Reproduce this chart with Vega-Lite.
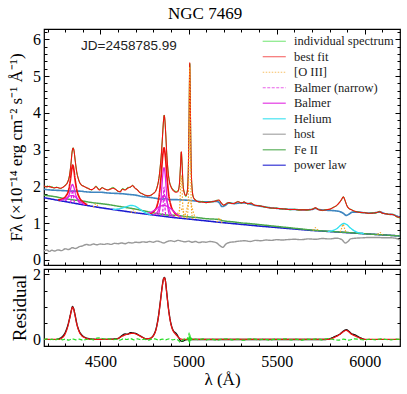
{
"$schema":"https://vega.github.io/schema/vega-lite/v6.json",
"autosize":{"type":"pad"},
"bounds":"flush",
"padding":{"left":6,"top":4,"right":0,"bottom":0},
"title":{"text":"NGC 7469","font":"Liberation Serif","fontSize":17,"fontWeight":"normal","color":"black","offset":5,"anchor":"middle"},
"config":{"view":{"stroke":"black","strokeWidth":1.2},"axis":{"domain":false,"grid":false,"tickColor":"black","tickWidth":1,"labelFont":"Liberation Serif","labelFontSize":16,"labelColor":"black","titleFont":"Liberation Serif","titleFontSize":17,"titleFontWeight":"normal","titleColor":"black"}},
"spacing":4,
"resolve":{"scale":{"color":"independent","strokeDash":"independent","strokeWidth":"independent"},"legend":{"color":"independent","strokeDash":"independent","strokeWidth":"independent"}},
"vconcat":[
{
"width":356,"height":236,
"resolve":{"axis":{"x":"independent","y":"independent"}},
"layer":[
{
"data":{"values":"s,g,x,y\nhost,h,4180,0.24\nhost,h,4195,0.27\nhost,h,4210,0.23\nhost,h,4225,0.26\nhost,h,4240,0.24\nhost,h,4260,0.27\nhost,h,4280,0.25\nhost,h,4300,0.30\nhost,h,4320,0.28\nhost,h,4340,0.33\nhost,h,4360,0.31\nhost,h,4380,0.36\nhost,h,4400,0.38\nhost,h,4420,0.42\nhost,h,4440,0.40\nhost,h,4460,0.43\nhost,h,4480,0.41\nhost,h,4500,0.43\nhost,h,4520,0.42\nhost,h,4540,0.44\nhost,h,4560,0.42\nhost,h,4580,0.45\nhost,h,4600,0.44\nhost,h,4620,0.46\nhost,h,4640,0.44\nhost,h,4660,0.47\nhost,h,4680,0.46\nhost,h,4700,0.48\nhost,h,4720,0.47\nhost,h,4740,0.49\nhost,h,4760,0.48\nhost,h,4780,0.50\nhost,h,4800,0.48\nhost,h,4820,0.51\nhost,h,4840,0.49\nhost,h,4860,0.46\nhost,h,4880,0.50\nhost,h,4900,0.52\nhost,h,4920,0.50\nhost,h,4940,0.53\nhost,h,4960,0.51\nhost,h,4980,0.49\nhost,h,5000,0.51\nhost,h,5020,0.48\nhost,h,5040,0.50\nhost,h,5060,0.47\nhost,h,5080,0.49\nhost,h,5100,0.48\nhost,h,5120,0.50\nhost,h,5140,0.49\nhost,h,5160,0.46\nhost,h,5180,0.38\nhost,h,5195,0.34\nhost,h,5210,0.42\nhost,h,5230,0.47\nhost,h,5260,0.49\nhost,h,5290,0.51\nhost,h,5320,0.52\nhost,h,5350,0.50\nhost,h,5380,0.53\nhost,h,5410,0.52\nhost,h,5440,0.54\nhost,h,5470,0.53\nhost,h,5500,0.55\nhost,h,5530,0.54\nhost,h,5560,0.55\nhost,h,5600,0.56\nhost,h,5640,0.55\nhost,h,5680,0.57\nhost,h,5720,0.56\nhost,h,5760,0.58\nhost,h,5800,0.57\nhost,h,5840,0.59\nhost,h,5870,0.55\nhost,h,5890,0.46\nhost,h,5905,0.50\nhost,h,5920,0.57\nhost,h,5950,0.59\nhost,h,5990,0.60\nhost,h,6030,0.61\nhost,h,6070,0.61\nhost,h,6110,0.60\nhost,h,6150,0.60\nhost,h,6180,0.58\nhost,h,6200,0.54\npower law,p,4180,1.69\npower law,p,4300,1.585\npower law,p,4400,1.50\npower law,p,4500,1.42\npower law,p,4600,1.35\npower law,p,4700,1.28\npower law,p,4800,1.22\npower law,p,4900,1.16\npower law,p,5000,1.11\npower law,p,5100,1.06\npower law,p,5200,1.01\npower law,p,5300,0.965\npower law,p,5400,0.92\npower law,p,5500,0.88\npower law,p,5600,0.84\npower law,p,5700,0.80\npower law,p,5800,0.77\npower law,p,5900,0.74\npower law,p,6000,0.71\npower law,p,6100,0.68\npower law,p,6200,0.65\nFe II,f,4180,1.76\nFe II,f,4240,1.72\nFe II,f,4300,1.665\nFe II,f,4350,1.63\nFe II,f,4400,1.60\nFe II,f,4450,1.56\nFe II,f,4500,1.53\nFe II,f,4550,1.50\nFe II,f,4600,1.46\nFe II,f,4650,1.42\nFe II,f,4700,1.38\nFe II,f,4750,1.33\nFe II,f,4800,1.28\nFe II,f,4850,1.24\nFe II,f,4900,1.21\nFe II,f,4925,1.215\nFe II,f,4950,1.20\nFe II,f,5000,1.17\nFe II,f,5050,1.15\nFe II,f,5100,1.12\nFe II,f,5140,1.11\nFe II,f,5170,1.10\nFe II,f,5200,1.06\nFe II,f,5250,1.035\nFe II,f,5300,1.005\nFe II,f,5350,0.985\nFe II,f,5400,0.96\nFe II,f,5450,0.935\nFe II,f,5500,0.91\nFe II,f,5550,0.885\nFe II,f,5600,0.86\nFe II,f,5650,0.835\nFe II,f,5700,0.81\nFe II,f,5800,0.775\nFe II,f,5900,0.745\nFe II,f,6000,0.71\nFe II,f,6100,0.68\nFe II,f,6200,0.65\ncont,c,4180,1.92\ncont,c,4220,1.90\ncont,c,4260,1.89\ncont,c,4300,1.88\ncont,c,4340,1.87\ncont,c,4380,1.87\ncont,c,4420,1.85\ncont,c,4460,1.84\ncont,c,4500,1.84\ncont,c,4540,1.82\ncont,c,4580,1.81\ncont,c,4620,1.80\ncont,c,4660,1.78\ncont,c,4700,1.76\ncont,c,4740,1.72\ncont,c,4780,1.70\ncont,c,4820,1.67\ncont,c,4850,1.65\ncont,c,4870,1.67\ncont,c,4890,1.64\ncont,c,4920,1.64\ncont,c,4960,1.63\ncont,c,5000,1.62\ncont,c,5040,1.60\ncont,c,5080,1.58\ncont,c,5120,1.58\ncont,c,5160,1.59\ncont,c,5175,1.55\ncont,c,5190,1.45\ncont,c,5205,1.47\ncont,c,5230,1.55\ncont,c,5260,1.53\ncont,c,5300,1.55\ncont,c,5340,1.53\ncont,c,5380,1.48\ncont,c,5420,1.45\ncont,c,5460,1.42\ncont,c,5500,1.40\ncont,c,5550,1.38\ncont,c,5600,1.37\ncont,c,5650,1.36\ncont,c,5700,1.37\ncont,c,5720,1.40\ncont,c,5740,1.37\ncont,c,5780,1.35\ncont,c,5820,1.34\ncont,c,5860,1.31\ncont,c,5880,1.26\ncont,c,5895,1.21\ncont,c,5910,1.24\ncont,c,5930,1.30\ncont,c,5960,1.30\ncont,c,6000,1.28\ncont,c,6040,1.27\ncont,c,6085,1.30\ncont,c,6120,1.25\ncont,c,6160,1.23\ncont,c,6200,1.15\nindividual spectrum,d,4180,2.00\nindividual spectrum,d,4190,1.99\nindividual spectrum,d,4200,2.01\nindividual spectrum,d,4212,1.98\nindividual spectrum,d,4225,1.99\nindividual spectrum,d,4238,1.95\nindividual spectrum,d,4250,1.98\nindividual spectrum,d,4262,1.96\nindividual spectrum,d,4275,1.94\nindividual spectrum,d,4288,1.98\nindividual spectrum,d,4300,2.03\nindividual spectrum,d,4312,2.10\nindividual spectrum,d,4325,2.31\nindividual spectrum,d,4333,2.60\nindividual spectrum,d,4340,2.96\nindividual spectrum,d,4345,3.05\nindividual spectrum,d,4350,2.97\nindividual spectrum,d,4357,2.71\nindividual spectrum,d,4365,2.40\nindividual spectrum,d,4375,2.21\nindividual spectrum,d,4390,2.04\nindividual spectrum,d,4405,2.01\nindividual spectrum,d,4420,1.96\nindividual spectrum,d,4435,1.94\nindividual spectrum,d,4450,1.90\nindividual spectrum,d,4465,1.96\nindividual spectrum,d,4475,2.01\nindividual spectrum,d,4485,1.95\nindividual spectrum,d,4495,1.92\nindividual spectrum,d,4510,1.97\nindividual spectrum,d,4525,1.92\nindividual spectrum,d,4540,1.91\nindividual spectrum,d,4555,1.93\nindividual spectrum,d,4570,1.97\nindividual spectrum,d,4585,1.93\nindividual spectrum,d,4600,1.86\nindividual spectrum,d,4612,1.86\nindividual spectrum,d,4625,1.94\nindividual spectrum,d,4640,1.91\nindividual spectrum,d,4655,1.97\nindividual spectrum,d,4670,1.97\nindividual spectrum,d,4683,2.03\nindividual spectrum,d,4695,1.95\nindividual spectrum,d,4710,1.91\nindividual spectrum,d,4725,1.82\nindividual spectrum,d,4740,1.80\nindividual spectrum,d,4755,1.75\nindividual spectrum,d,4770,1.75\nindividual spectrum,d,4785,1.75\nindividual spectrum,d,4800,1.81\nindividual spectrum,d,4812,1.85\nindividual spectrum,d,4822,1.99\nindividual spectrum,d,4832,2.21\nindividual spectrum,d,4840,2.56\nindividual spectrum,d,4847,2.94\nindividual spectrum,d,4853,3.41\nindividual spectrum,d,4858,3.77\nindividual spectrum,d,4862,3.94\nindividual spectrum,d,4866,3.79\nindividual spectrum,d,4871,3.41\nindividual spectrum,d,4877,2.84\nindividual spectrum,d,4884,2.42\nindividual spectrum,d,4892,2.13\nindividual spectrum,d,4902,1.99\nindividual spectrum,d,4915,1.90\nindividual spectrum,d,4930,1.86\nindividual spectrum,d,4940,1.88\nindividual spectrum,d,4948,2.03\nindividual spectrum,d,4954,2.52\nindividual spectrum,d,4959,2.93\nindividual spectrum,d,4964,2.57\nindividual spectrum,d,4969,2.03\nindividual spectrum,d,4976,1.84\nindividual spectrum,d,4985,1.72\nindividual spectrum,d,4993,1.88\nindividual spectrum,d,4999,2.48\nindividual spectrum,d,5003,3.82\nindividual spectrum,d,5007,5.34\nindividual spectrum,d,5011,4.02\nindividual spectrum,d,5015,2.58\nindividual spectrum,d,5020,1.97\nindividual spectrum,d,5028,1.69\nindividual spectrum,d,5040,1.64\nindividual spectrum,d,5060,1.57\nindividual spectrum,d,5080,1.59\nindividual spectrum,d,5100,1.55\nindividual spectrum,d,5120,1.58\nindividual spectrum,d,5140,1.58\nindividual spectrum,d,5160,1.62\nindividual spectrum,d,5172,1.62\nindividual spectrum,d,5185,1.56\nindividual spectrum,d,5200,1.48\nindividual spectrum,d,5215,1.54\nindividual spectrum,d,5230,1.55\nindividual spectrum,d,5245,1.54\nindividual spectrum,d,5260,1.53\nindividual spectrum,d,5280,1.59\nindividual spectrum,d,5300,1.54\nindividual spectrum,d,5315,1.58\nindividual spectrum,d,5335,1.52\nindividual spectrum,d,5355,1.55\nindividual spectrum,d,5375,1.48\nindividual spectrum,d,5400,1.48\nindividual spectrum,d,5425,1.44\nindividual spectrum,d,5450,1.43\nindividual spectrum,d,5475,1.40\nindividual spectrum,d,5500,1.41\nindividual spectrum,d,5525,1.38\nindividual spectrum,d,5550,1.39\nindividual spectrum,d,5575,1.36\nindividual spectrum,d,5600,1.38\nindividual spectrum,d,5625,1.35\nindividual spectrum,d,5650,1.37\nindividual spectrum,d,5675,1.35\nindividual spectrum,d,5700,1.38\nindividual spectrum,d,5720,1.41\nindividual spectrum,d,5735,1.38\nindividual spectrum,d,5760,1.34\nindividual spectrum,d,5780,1.37\nindividual spectrum,d,5800,1.37\nindividual spectrum,d,5820,1.43\nindividual spectrum,d,5840,1.47\nindividual spectrum,d,5855,1.56\nindividual spectrum,d,5868,1.63\nindividual spectrum,d,5878,1.72\nindividual spectrum,d,5888,1.61\nindividual spectrum,d,5898,1.49\nindividual spectrum,d,5910,1.39\nindividual spectrum,d,5925,1.37\nindividual spectrum,d,5940,1.32\nindividual spectrum,d,5960,1.31\nindividual spectrum,d,5980,1.28\nindividual spectrum,d,6000,1.29\nindividual spectrum,d,6020,1.26\nindividual spectrum,d,6040,1.28\nindividual spectrum,d,6060,1.27\nindividual spectrum,d,6085,1.32\nindividual spectrum,d,6100,1.26\nindividual spectrum,d,6120,1.26\nindividual spectrum,d,6140,1.23\nindividual spectrum,d,6160,1.24\nindividual spectrum,d,6180,1.17\nindividual spectrum,d,6200,1.14\nbest fit,b,4180,2.02\nbest fit,b,4195,1.98\nbest fit,b,4210,2.00\nbest fit,b,4225,1.97\nbest fit,b,4240,1.96\nbest fit,b,4255,1.97\nbest fit,b,4270,1.95\nbest fit,b,4285,1.97\nbest fit,b,4300,2.02\nbest fit,b,4315,2.12\nbest fit,b,4325,2.30\nbest fit,b,4333,2.62\nbest fit,b,4340,2.95\nbest fit,b,4345,3.04\nbest fit,b,4350,2.98\nbest fit,b,4357,2.70\nbest fit,b,4365,2.42\nbest fit,b,4375,2.20\nbest fit,b,4390,2.05\nbest fit,b,4405,2.00\nbest fit,b,4420,1.97\nbest fit,b,4435,1.93\nbest fit,b,4450,1.91\nbest fit,b,4465,1.95\nbest fit,b,4475,1.99\nbest fit,b,4485,1.94\nbest fit,b,4495,1.90\nbest fit,b,4510,1.96\nbest fit,b,4525,1.93\nbest fit,b,4540,1.90\nbest fit,b,4555,1.92\nbest fit,b,4570,1.95\nbest fit,b,4585,1.92\nbest fit,b,4600,1.87\nbest fit,b,4612,1.85\nbest fit,b,4625,1.92\nbest fit,b,4640,1.90\nbest fit,b,4655,1.95\nbest fit,b,4670,1.98\nbest fit,b,4683,2.02\nbest fit,b,4695,1.96\nbest fit,b,4710,1.90\nbest fit,b,4725,1.83\nbest fit,b,4740,1.79\nbest fit,b,4755,1.76\nbest fit,b,4770,1.74\nbest fit,b,4785,1.76\nbest fit,b,4800,1.80\nbest fit,b,4812,1.86\nbest fit,b,4822,1.98\nbest fit,b,4832,2.22\nbest fit,b,4840,2.55\nbest fit,b,4847,2.95\nbest fit,b,4853,3.40\nbest fit,b,4858,3.78\nbest fit,b,4862,3.93\nbest fit,b,4866,3.80\nbest fit,b,4871,3.40\nbest fit,b,4877,2.85\nbest fit,b,4884,2.40\nbest fit,b,4892,2.12\nbest fit,b,4902,1.97\nbest fit,b,4915,1.88\nbest fit,b,4930,1.84\nbest fit,b,4940,1.86\nbest fit,b,4948,2.05\nbest fit,b,4954,2.50\nbest fit,b,4959,2.94\nbest fit,b,4964,2.55\nbest fit,b,4969,2.05\nbest fit,b,4976,1.82\nbest fit,b,4985,1.75\nbest fit,b,4993,1.85\nbest fit,b,4999,2.50\nbest fit,b,5003,3.80\nbest fit,b,5007,5.36\nbest fit,b,5011,4.00\nbest fit,b,5015,2.60\nbest fit,b,5020,1.95\nbest fit,b,5028,1.70\nbest fit,b,5040,1.62\nbest fit,b,5060,1.58\nbest fit,b,5080,1.57\nbest fit,b,5100,1.56\nbest fit,b,5120,1.57\nbest fit,b,5140,1.59\nbest fit,b,5160,1.61\nbest fit,b,5172,1.63\nbest fit,b,5185,1.55\nbest fit,b,5200,1.49\nbest fit,b,5215,1.53\nbest fit,b,5230,1.56\nbest fit,b,5245,1.53\nbest fit,b,5260,1.54\nbest fit,b,5280,1.58\nbest fit,b,5300,1.55\nbest fit,b,5315,1.57\nbest fit,b,5335,1.53\nbest fit,b,5355,1.54\nbest fit,b,5375,1.49\nbest fit,b,5400,1.47\nbest fit,b,5425,1.45\nbest fit,b,5450,1.42\nbest fit,b,5475,1.41\nbest fit,b,5500,1.40\nbest fit,b,5525,1.39\nbest fit,b,5550,1.38\nbest fit,b,5575,1.37\nbest fit,b,5600,1.37\nbest fit,b,5625,1.36\nbest fit,b,5650,1.36\nbest fit,b,5675,1.36\nbest fit,b,5700,1.37\nbest fit,b,5720,1.42\nbest fit,b,5735,1.37\nbest fit,b,5760,1.35\nbest fit,b,5780,1.36\nbest fit,b,5800,1.38\nbest fit,b,5820,1.42\nbest fit,b,5840,1.48\nbest fit,b,5855,1.55\nbest fit,b,5868,1.64\nbest fit,b,5878,1.71\nbest fit,b,5888,1.62\nbest fit,b,5898,1.48\nbest fit,b,5910,1.40\nbest fit,b,5925,1.36\nbest fit,b,5940,1.33\nbest fit,b,5960,1.30\nbest fit,b,5980,1.29\nbest fit,b,6000,1.28\nbest fit,b,6020,1.27\nbest fit,b,6040,1.27\nbest fit,b,6060,1.28\nbest fit,b,6085,1.31\nbest fit,b,6100,1.27\nbest fit,b,6120,1.25\nbest fit,b,6140,1.24\nbest fit,b,6160,1.23\nbest fit,b,6180,1.18\nbest fit,b,6200,1.15\nbsum,s1,4260,1.63\nbsum,s1,4285,1.66\nbsum,s1,4305,1.74\nbsum,s1,4320,1.90\nbsum,s1,4330,2.18\nbsum,s1,4337,2.45\nbsum,s1,4343,2.58\nbsum,s1,4349,2.47\nbsum,s1,4356,2.20\nbsum,s1,4366,1.90\nbsum,s1,4380,1.70\nbsum,s1,4400,1.58\nbsum,s1,4425,1.50\nbsum,s2,4780,1.26\nbsum,s2,4805,1.33\nbsum,s2,4822,1.48\nbsum,s2,4835,1.80\nbsum,s2,4845,2.30\nbsum,s2,4853,2.80\nbsum,s2,4861,3.05\nbsum,s2,4869,2.80\nbsum,s2,4877,2.30\nbsum,s2,4887,1.80\nbsum,s2,4900,1.48\nbsum,s2,4918,1.30\nbsum,s2,4945,1.20\nBalmer,hg1,4300,1.605\nBalmer,hg1,4315,1.69\nBalmer,hg1,4327,1.84\nBalmer,hg1,4335,2.00\nBalmer,hg1,4342,2.05\nBalmer,hg1,4349,1.98\nBalmer,hg1,4357,1.82\nBalmer,hg1,4369,1.65\nBalmer,hg1,4384,1.535\nBalmer,hg2,4272,1.62\nBalmer,hg2,4297,1.655\nBalmer,hg2,4312,1.695\nBalmer,hg2,4327,1.74\nBalmer,hg2,4342,1.75\nBalmer,hg2,4357,1.715\nBalmer,hg2,4372,1.65\nBalmer,hg2,4387,1.575\nBalmer,hg2,4412,1.50\nBalmer,hb1,4825,1.215\nBalmer,hb1,4837,1.37\nBalmer,hb1,4843,1.62\nBalmer,hb1,4849,2.00\nBalmer,hb1,4855,2.36\nBalmer,hb1,4861,2.51\nBalmer,hb1,4867,2.35\nBalmer,hb1,4873,1.98\nBalmer,hb1,4879,1.60\nBalmer,hb1,4885,1.35\nBalmer,hb1,4897,1.18\nBalmer,hb2,4801,1.225\nBalmer,hb2,4821,1.28\nBalmer,hb2,4831,1.39\nBalmer,hb2,4841,1.55\nBalmer,hb2,4851,1.70\nBalmer,hb2,4861,1.76\nBalmer,hb2,4871,1.69\nBalmer,hb2,4881,1.53\nBalmer,hb2,4891,1.36\nBalmer,hb2,4901,1.24\nBalmer,hb2,4921,1.17\nBalmer,hb3,4760,1.26\nBalmer,hb3,4790,1.30\nBalmer,hb3,4815,1.38\nBalmer,hb3,4840,1.46\nBalmer,hb3,4861,1.48\nBalmer,hb3,4882,1.45\nBalmer,hb3,4907,1.36\nBalmer,hb3,4932,1.25\nBalmer,hb3,4960,1.16\nBalmer (narrow),ng,4328,1.56\nBalmer (narrow),ng,4334,1.62\nBalmer (narrow),ng,4338,1.80\nBalmer (narrow),ng,4342,1.90\nBalmer (narrow),ng,4346,1.80\nBalmer (narrow),ng,4350,1.62\nBalmer (narrow),ng,4356,1.545\nBalmer (narrow),nb,4850,1.19\nBalmer (narrow),nb,4855,1.40\nBalmer (narrow),nb,4858,1.75\nBalmer (narrow),nb,4861,1.98\nBalmer (narrow),nb,4864,1.75\nBalmer (narrow),nb,4867,1.40\nBalmer (narrow),nb,4872,1.18\nHelium,he2,4570,1.37\nHelium,he2,4600,1.385\nHelium,he2,4625,1.41\nHelium,he2,4650,1.45\nHelium,he2,4672,1.48\nHelium,he2,4692,1.47\nHelium,he2,4712,1.42\nHelium,he2,4735,1.34\nHelium,he2,4760,1.27\nHelium,he2,4790,1.225\nHelium,he1,5790,0.77\nHelium,he1,5820,0.80\nHelium,he1,5845,0.86\nHelium,he1,5865,0.95\nHelium,he1,5882,0.99\nHelium,he1,5898,0.96\nHelium,he1,5918,0.87\nHelium,he1,5940,0.79\nHelium,he1,5965,0.74\nHelium,he1,5995,0.715\n[O III],o1,4990,1.12\n[O III],o1,4996,1.30\n[O III],o1,5000,1.90\n[O III],o1,5003,3.20\n[O III],o1,5005,4.50\n[O III],o1,5007,5.25\n[O III],o1,5009,4.50\n[O III],o1,5011,3.20\n[O III],o1,5014,1.90\n[O III],o1,5018,1.30\n[O III],o1,5024,1.11\n[O III],o2,4972,1.15\n[O III],o2,4985,1.28\n[O III],o2,4997,1.50\n[O III],o2,5006,1.62\n[O III],o2,5015,1.52\n[O III],o2,5027,1.30\n[O III],o2,5040,1.13\n[O III],o3,4942,1.16\n[O III],o3,4948,1.30\n[O III],o3,4952,1.62\n[O III],o3,4955,2.00\n[O III],o3,4959,2.30\n[O III],o3,4963,2.00\n[O III],o3,4966,1.62\n[O III],o3,4970,1.30\n[O III],o3,4976,1.15\n[O III],o4,4925,1.19\n[O III],o4,4938,1.26\n[O III],o4,4950,1.35\n[O III],o4,4958,1.38\n[O III],o4,4967,1.34\n[O III],o4,4980,1.24\n[O III],o4,4993,1.15\n[O III],o5,4458,1.44\n[O III],o5,4466,1.47\n[O III],o5,4472,1.52\n[O III],o5,4478,1.52\n[O III],o5,4484,1.47\n[O III],o5,4492,1.425\n[O III],o6,4672,1.29\n[O III],o6,4680,1.32\n[O III],o6,4686,1.36\n[O III],o6,4692,1.33\n[O III],o6,4700,1.285\n[O III],o7,5160,1.03\n[O III],o7,5168,1.08\n[O III],o7,5175,1.14\n[O III],o7,5182,1.08\n[O III],o7,5190,1.01\n[O III],o8,5705,0.805\n[O III],o8,5714,0.84\n[O III],o8,5721,0.88\n[O III],o8,5728,0.84\n[O III],o8,5737,0.80\n[O III],o9,5860,0.755\n[O III],o9,5869,0.86\n[O III],o9,5877,0.97\n[O III],o9,5885,0.86\n[O III],o9,5894,0.745\n[O III],o10,6072,0.69\n[O III],o10,6080,0.72\n[O III],o10,6087,0.745\n[O III],o10,6094,0.72\n[O III],o10,6102,0.685","format":{"type":"csv","parse":{"x":"number","y":"number"}}},
"mark":{"type":"line","interpolate":"monotone"},
"encoding":{
"x":{"field":"x","type":"quantitative","scale":{"domain":[4180,6200],"nice":false,"zero":false},"axis":{"orient":"bottom","values":[4500,5000,5500,6000],"labels":false,"tickSize":-5,"title":null}},
"y":{"field":"y","type":"quantitative","scale":{"domain":[-0.14,6.28],"nice":false,"zero":false},"axis":{"orient":"left","values":[0,1,2,3,4,5,6],"format":"d","tickSize":-5,"labelPadding":8.5,"title":"Fλ (×10⁻¹⁴ erg cm⁻² s⁻¹ Å⁻¹)","titleX":-28,"titleY":118,"titleAngle":270,"titleAlign":"center","titleBaseline":"middle"}},
"color":{"field":"s","type":"nominal","scale":{"domain":["individual spectrum","best fit","[O III]","Balmer (narrow)","Balmer","Helium","host","Fe II","power law","cont","bsum"],"range":["#19d419","#f01010","#f5a623","#e020e0","#e020e0","#30e0f0","#999999","#4aa84a","#1a1ad0","#3f86c0","#f01010"]},"legend":{"values":["individual spectrum","best fit","[O III]","Balmer (narrow)","Balmer","Helium","host","Fe II","power law"],"orient":"none","legendX":224,"legendY":6,"title":null,"symbolType":"M-3,0H3","symbolSize":59,"labelFont":"Liberation Serif","labelFontSize":12.5,"labelColor":"#222222","rowPadding":2.5,"labelOffset":13.5,"padding":0,"symbolOpacity":0.7,"encode":{"symbols":{"update":{"strokeDash":{"signal":"datum.value === '[O III]' ? [1.5,1.5] : datum.value === 'Balmer (narrow)' ? [3,1.5] : [1,0]"},"strokeWidth":{"signal":"indexof(['best fit','Helium','Fe II'], datum.value) >= 0 ? 2.6 : 1.1"}}}}}},
"strokeDash":{"field":"s","type":"nominal","scale":{"domain":["individual spectrum","best fit","[O III]","Balmer (narrow)","Balmer","Helium","host","Fe II","power law","cont","bsum"],"range":[[1,0],[1,0],[1.5,1.5],[3,1.5],[1,0],[1,0],[1,0],[1,0],[1,0],[1,0],[1,0]]},"legend":null},
"strokeWidth":{"field":"s","type":"nominal","scale":{"domain":["individual spectrum","best fit","[O III]","Balmer (narrow)","Balmer","Helium","host","Fe II","power law","cont","bsum"],"range":[1,1.7,1.1,0.9,1,1.8,1,2.2,1.3,1.2,1]},"legend":null},
"detail":{"field":"g","type":"nominal"}
}
},
{
"data":{"values":[{}]},
"mark":{"type":"text","align":"left","baseline":"middle","font":"Liberation Sans","fontSize":13.5,"color":"#222222"},
"encoding":{
"x":{"datum":4390,"type":"quantitative","scale":{"domain":[4180,6200],"nice":false,"zero":false},"axis":null},
"y":{"datum":5.82,"type":"quantitative","scale":{"domain":[-0.14,6.28],"nice":false,"zero":false},"axis":null},
"text":{"value":"JD=2458785.99"}
}
},
{
"data":{"values":[{}]},
"mark":{"type":"point","opacity":0},
"encoding":{
"x":{"datum":5000,"type":"quantitative","scale":{"domain":[4180,6200],"nice":false,"zero":false},"axis":{"orient":"top","values":[4500,5000,5500,6000],"labels":false,"tickSize":-5,"title":null}},
"y":{"datum":1,"type":"quantitative","scale":{"domain":[-0.14,6.28],"nice":false,"zero":false},"axis":{"orient":"right","values":[0,1,2,3,4,5,6],"labels":false,"tickSize":-5,"title":null}}
}
},
{
"data":{"values":[{}]},
"mark":{"type":"point","opacity":0},
"encoding":{
"x":{"datum":5000,"type":"quantitative","scale":{"domain":[4180,6200],"nice":false,"zero":false},"axis":{"orient":"bottom","values":[4200,4300,4400,4600,4700,4800,4900,5100,5200,5300,5400,5600,5700,5800,5900,6100],"labels":false,"tickSize":-3,"title":null}},
"y":{"datum":1,"type":"quantitative","scale":{"domain":[-0.14,6.28],"nice":false,"zero":false},"axis":{"orient":"left","values":[0.2,0.4,0.6,0.8,1.2,1.4,1.6,1.8,2.2,2.4,2.6,2.8,3.2,3.4,3.6,3.8,4.2,4.4,4.6,4.8,5.2,5.4,5.6,5.8,6.2],"labels":false,"tickSize":-3,"title":null}}
}
},
{
"data":{"values":[{}]},
"mark":{"type":"point","opacity":0},
"encoding":{
"x":{"datum":5000,"type":"quantitative","scale":{"domain":[4180,6200],"nice":false,"zero":false},"axis":{"orient":"top","values":[4200,4300,4400,4600,4700,4800,4900,5100,5200,5300,5400,5600,5700,5800,5900,6100],"labels":false,"tickSize":-3,"title":null}},
"y":{"datum":1,"type":"quantitative","scale":{"domain":[-0.14,6.28],"nice":false,"zero":false},"axis":{"orient":"right","values":[0.2,0.4,0.6,0.8,1.2,1.4,1.6,1.8,2.2,2.4,2.6,2.8,3.2,3.4,3.6,3.8,4.2,4.4,4.6,4.8,5.2,5.4,5.6,5.8,6.2],"labels":false,"tickSize":-3,"title":null}}
}
}
]
},
{
"width":356,"height":77,
"resolve":{"axis":{"x":"independent","y":"independent"}},
"layer":[
{
"data":{"values":"s,x,y\nrblack,4250,0.0\nrblack,4267,0.03\nrblack,4285,0.09\nrblack,4300,0.21\nrblack,4315,0.43\nrblack,4327,0.69\nrblack,4336,0.91\nrblack,4342,1.01\nrblack,4348,0.95\nrblack,4356,0.76\nrblack,4366,0.49\nrblack,4378,0.28\nrblack,4392,0.15\nrblack,4410,0.07\nrblack,4430,0.03\nrblack,4460,0.01\nrblack,4500,0.0\nrblack,4560,0.01\nrblack,4600,0.03\nrblack,4620,0.11\nrblack,4640,0.17\nrblack,4655,0.16\nrblack,4670,0.21\nrblack,4685,0.20\nrblack,4700,0.19\nrblack,4715,0.14\nrblack,4730,0.10\nrblack,4745,0.05\nrblack,4760,0.02\nrblack,4780,0.03\nrblack,4800,0.12\nrblack,4815,0.31\nrblack,4828,0.66\nrblack,4840,1.16\nrblack,4850,1.60\nrblack,4858,1.86\nrblack,4863,1.90\nrblack,4869,1.80\nrblack,4876,1.46\nrblack,4885,1.01\nrblack,4895,0.63\nrblack,4905,0.39\nrblack,4915,0.26\nrblack,4925,0.21\nrblack,4935,0.15\nrblack,4945,0.05\nrblack,4955,-0.04\nrblack,4965,-0.06\nrblack,4980,-0.02\nrblack,5000,0.0\nrblack,5100,0.0\nrblack,5500,0.0\nrblack,5780,0.0\nrblack,5800,0.02\nrblack,5830,0.09\nrblack,5860,0.17\nrblack,5885,0.28\nrblack,5895,0.30\nrblack,5910,0.25\nrblack,5925,0.18\nrblack,5945,0.14\nrblack,5965,0.08\nrblack,5985,0.03\nrblack,6000,0.0\nrfit,4180,0\nrfit,4260,0.0\nrfit,4280,0.04\nrfit,4300,0.17\nrfit,4315,0.40\nrfit,4327,0.68\nrfit,4336,0.90\nrfit,4342,0.99\nrfit,4348,0.93\nrfit,4356,0.74\nrfit,4366,0.47\nrfit,4378,0.26\nrfit,4392,0.13\nrfit,4410,0.06\nrfit,4430,0.02\nrfit,4460,0.0\nrfit,4580,0.0\nrfit,4600,0.03\nrfit,4620,0.09\nrfit,4640,0.14\nrfit,4660,0.17\nrfit,4680,0.19\nrfit,4700,0.17\nrfit,4720,0.12\nrfit,4740,0.06\nrfit,4760,0.02\nrfit,4780,0.03\nrfit,4800,0.11\nrfit,4815,0.29\nrfit,4828,0.64\nrfit,4840,1.13\nrfit,4850,1.58\nrfit,4858,1.84\nrfit,4863,1.89\nrfit,4869,1.79\nrfit,4876,1.44\nrfit,4885,0.99\nrfit,4895,0.61\nrfit,4905,0.37\nrfit,4915,0.24\nrfit,4925,0.17\nrfit,4935,0.11\nrfit,4945,0.05\nrfit,4960,0.01\nrfit,4980,0\nrfit,5780,0\nrfit,5800,0.01\nrfit,5830,0.07\nrfit,5860,0.16\nrfit,5885,0.26\nrfit,5895,0.28\nrfit,5910,0.23\nrfit,5925,0.16\nrfit,5945,0.11\nrfit,5965,0.06\nrfit,5985,0.02\nrfit,6000,0.0\nrfit,6200,0.0\nrres,4180,0.00\nrres,4195,0.02\nrres,4210,-0.01\nrres,4225,0.01\nrres,4240,-0.02\nrres,4255,0.01\nrres,4270,0.02\nrres,4285,-0.01\nrres,4300,0.01\nrres,4320,-0.02\nrres,4340,0.02\nrres,4360,-0.01\nrres,4380,0.01\nrres,4400,-0.02\nrres,4420,0.00\nrres,4440,0.02\nrres,4460,-0.01\nrres,4480,0.04\nrres,4495,0.05\nrres,4510,0.03\nrres,4530,0.01\nrres,4550,0.02\nrres,4570,-0.01\nrres,4590,0.01\nrres,4610,-0.02\nrres,4630,0.02\nrres,4650,0.00\nrres,4670,0.03\nrres,4690,-0.01\nrres,4710,0.02\nrres,4730,-0.01\nrres,4750,0.01\nrres,4770,-0.02\nrres,4790,0.01\nrres,4810,0.02\nrres,4830,-0.02\nrres,4850,0.01\nrres,4870,-0.01\nrres,4890,0.02\nrres,4910,-0.01\nrres,4930,0.01\nrres,4945,-0.04\nrres,4953,-0.09\nrres,4960,-0.06\nrres,4968,-0.02\nrres,4980,0.02\nrres,4990,-0.01\nrres,4996,0.06\nrres,5000,-0.05\nrres,5003,0.20\nrres,5006,-0.12\nrres,5009,0.15\nrres,5012,-0.06\nrres,5016,0.04\nrres,5022,-0.01\nrres,5040,0.01\nrres,5060,-0.01\nrres,5080,0.02\nrres,5100,-0.01\nrres,5130,0.01\nrres,5160,-0.02\nrres,5190,0.01\nrres,5220,0.02\nrres,5250,-0.01\nrres,5280,0.01\nrres,5310,-0.02\nrres,5340,0.01\nrres,5370,0.02\nrres,5400,-0.01\nrres,5430,0.01\nrres,5460,-0.02\nrres,5490,0.01\nrres,5520,0.00\nrres,5550,0.02\nrres,5580,-0.01\nrres,5610,0.01\nrres,5640,-0.02\nrres,5670,0.01\nrres,5700,0.00\nrres,5730,0.02\nrres,5760,-0.01\nrres,5790,0.03\nrres,5820,0.00\nrres,5850,-0.02\nrres,5880,0.01\nrres,5910,-0.02\nrres,5940,0.02\nrres,5970,0.00\nrres,6000,-0.01\nrres,6030,0.01\nrres,6060,-0.01\nrres,6090,0.02\nrres,6120,0.00\nrres,6150,-0.01\nrres,6180,0.01\nrres,6200,0.00","format":{"type":"csv","parse":{"x":"number","y":"number"}}},
"mark":{"type":"line","interpolate":"monotone"},
"encoding":{
"x":{"field":"x","type":"quantitative","scale":{"domain":[4180,6200],"nice":false,"zero":false},"axis":{"orient":"bottom","values":[4500,5000,5500,6000],"format":"d","tickSize":-5,"labelPadding":12,"title":"λ (Å)","titlePadding":2}},
"y":{"field":"y","type":"quantitative","scale":{"domain":[-0.2,2.16],"nice":false,"zero":false},"axis":{"orient":"left","values":[0,2],"format":"d","tickSize":-5,"labelPadding":8.5,"title":"Residual","titleX":-24.5,"titleY":38.5,"titleAngle":270,"titleAlign":"center","titleBaseline":"middle","titleFontSize":19}},
"color":{"field":"s","type":"nominal","scale":{"domain":["rblack","rfit","rres"],"range":["#111111","#ee1111","#22dd22"]},"legend":null},
"strokeDash":{"field":"s","type":"nominal","scale":{"domain":["rblack","rfit","rres"],"range":[[1,0],[1,0],[4,2]]},"legend":null},
"strokeWidth":{"field":"s","type":"nominal","scale":{"domain":["rblack","rfit","rres"],"range":[1.3,1.2,1]},"legend":null}
}
},
{
"data":{"values":[{}]},
"mark":{"type":"point","opacity":0},
"encoding":{
"x":{"datum":5000,"type":"quantitative","scale":{"domain":[4180,6200],"nice":false,"zero":false},"axis":{"orient":"top","values":[4500,5000,5500,6000],"labels":false,"tickSize":-5,"title":null}},
"y":{"datum":1,"type":"quantitative","scale":{"domain":[-0.2,2.16],"nice":false,"zero":false},"axis":{"orient":"right","values":[0,2],"labels":false,"tickSize":-5,"title":null}}
}
},
{
"data":{"values":[{}]},
"mark":{"type":"point","opacity":0},
"encoding":{
"x":{"datum":5000,"type":"quantitative","scale":{"domain":[4180,6200],"nice":false,"zero":false},"axis":{"orient":"bottom","values":[4200,4300,4400,4600,4700,4800,4900,5100,5200,5300,5400,5600,5700,5800,5900,6100],"labels":false,"tickSize":-3,"title":null}},
"y":{"datum":1,"type":"quantitative","scale":{"domain":[-0.2,2.16],"nice":false,"zero":false},"axis":{"orient":"left","values":[0.5,1,1.5],"labels":false,"tickSize":-3,"title":null}}
}
},
{
"data":{"values":[{}]},
"mark":{"type":"point","opacity":0},
"encoding":{
"x":{"datum":5000,"type":"quantitative","scale":{"domain":[4180,6200],"nice":false,"zero":false},"axis":{"orient":"top","values":[4200,4300,4400,4600,4700,4800,4900,5100,5200,5300,5400,5600,5700,5800,5900,6100],"labels":false,"tickSize":-3,"title":null}},
"y":{"datum":1,"type":"quantitative","scale":{"domain":[-0.2,2.16],"nice":false,"zero":false},"axis":{"orient":"right","values":[0.5,1,1.5],"labels":false,"tickSize":-3,"title":null}}
}
}
]
}
]
}
